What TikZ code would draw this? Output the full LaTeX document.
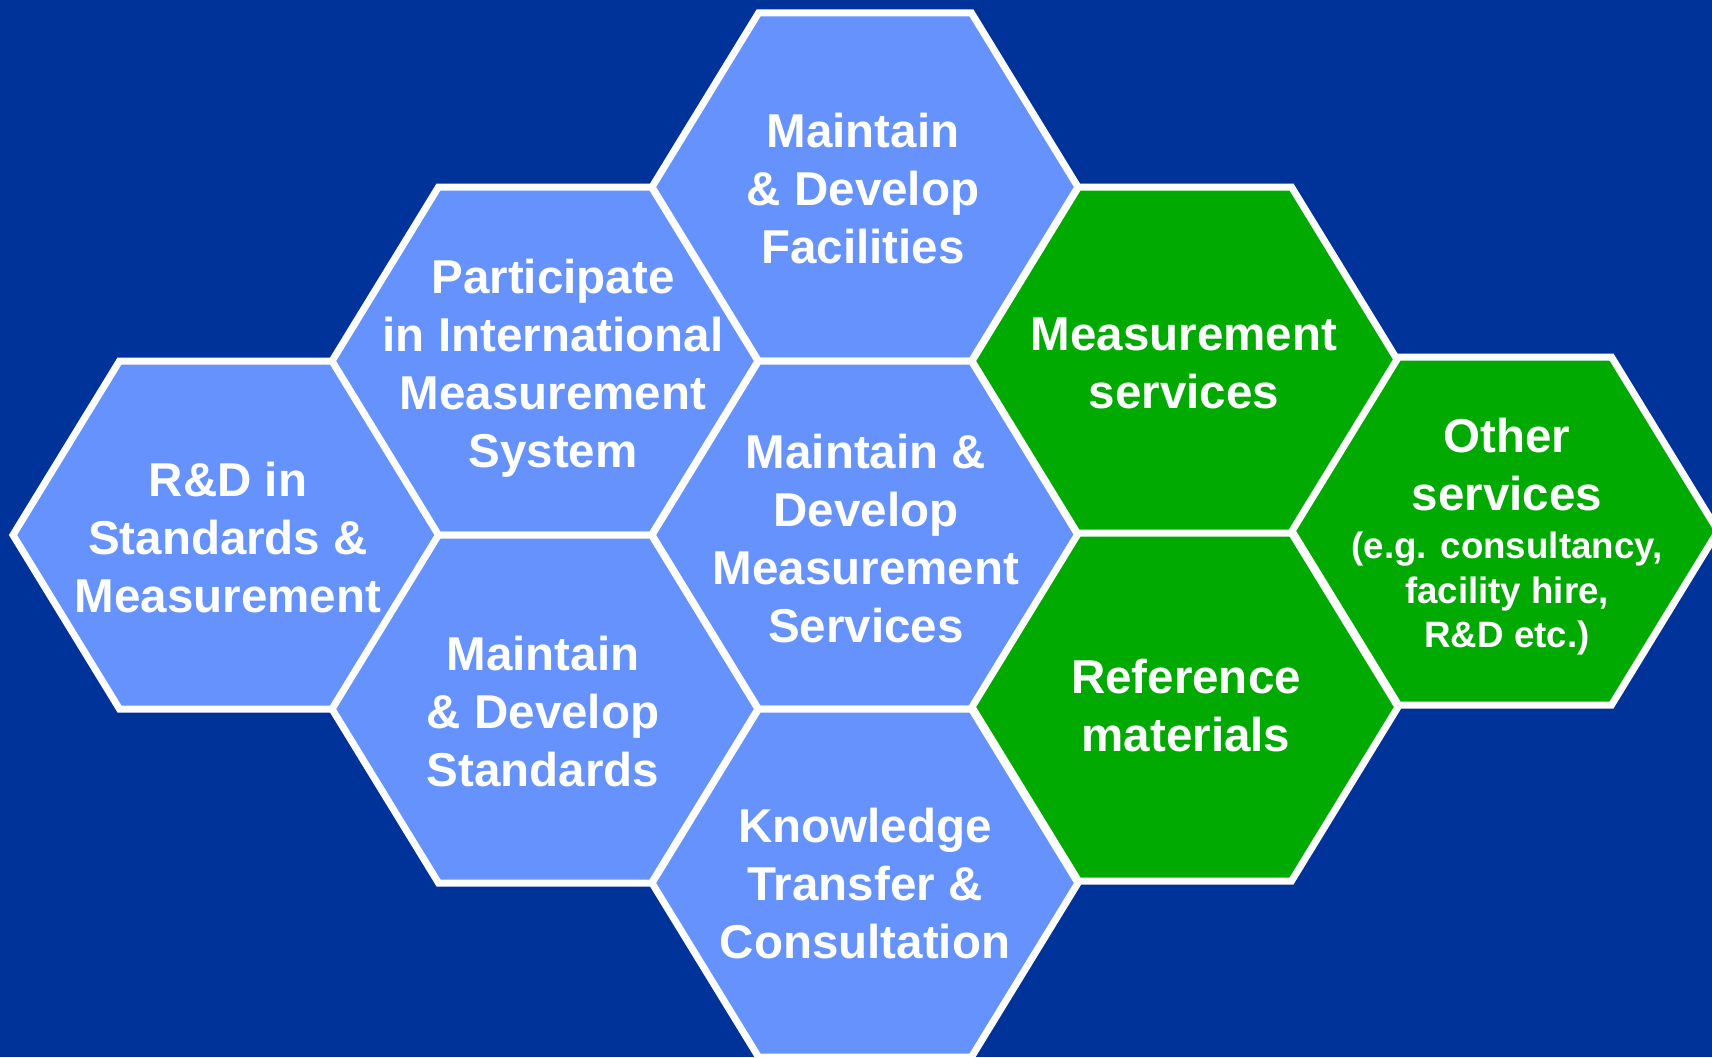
\documentclass[tikz,border=0pt]{standalone}
\usepackage{fontspec}
\setmainfont{Liberation Sans}
\definecolor{bgblue}{HTML}{003399}
\definecolor{hexblue}{HTML}{6592FC}
\definecolor{hexgreen}{HTML}{00AA00}
\newcommand\smallfs{\fontsize{36.7}{44.5}\selectfont}
\newcommand\hexcell[2]{%
  \filldraw[hexpath, fill=#1, shift={(#2)}] (-213,0) -- (-106.5,-174) -- (106.5,-174) -- (213,0) -- (106.5,174) -- (-106.5,174) -- cycle;}
\tikzset{
  hexpath/.style={draw=white, line width=7pt, line join=miter},
  lbl/.style={text=white, font=\bfseries\fontsize{47.5}{58}\selectfont, align=center, inner sep=0pt, anchor=center},
}
\begin{document}
\begin{tikzpicture}[x=1pt,y=-1pt]
\fill[bgblue] (0,0) rectangle (1712,1057);
\useasboundingbox (0,0) rectangle (1712,1057);
% blue cells
\hexcell{hexblue}{226,535}
\hexcell{hexblue}{545,361}
\hexcell{hexblue}{545,709}
\hexcell{hexblue}{865,187}
\hexcell{hexblue}{865,535}
\hexcell{hexblue}{865,883}
% green cells
\hexcell{hexgreen}{1185,361}
\hexcell{hexgreen}{1185,707}
\hexcell{hexgreen}{1505,531}
% labels
\node[lbl] (rd) at (228,538) {R\&D in\\Standards \&\\Measurement};
\node[lbl] (part) at (553,368) {Participate\\in International\\Measurement\\System};
\node[lbl] (stds) at (543,712) {Maintain\\\& Develop\\Standards};
\node[lbl] (fac) at (863,189) {Maintain\\\& Develop\\Facilities};
\node[lbl] (mserv) at (866,539) {Maintain \&\\Develop\\Measurement\\Services};
\node[lbl] (know) at (865,884) {Knowledge\\Transfer \&\\Consultation};
\node[lbl] (msrv) at (1184,363) {Measurement\\services};
\node[lbl] (ref) at (1186,706) {Reference\\materials};
\node[lbl] (other) at (1507,537) {Other\\services\\[-10pt]\smallfs(e.g. consultancy,\\[-13.5pt]\smallfs facility hire,\\[-13.5pt]\smallfs R\&D etc.)};
\end{tikzpicture}
\end{document}
